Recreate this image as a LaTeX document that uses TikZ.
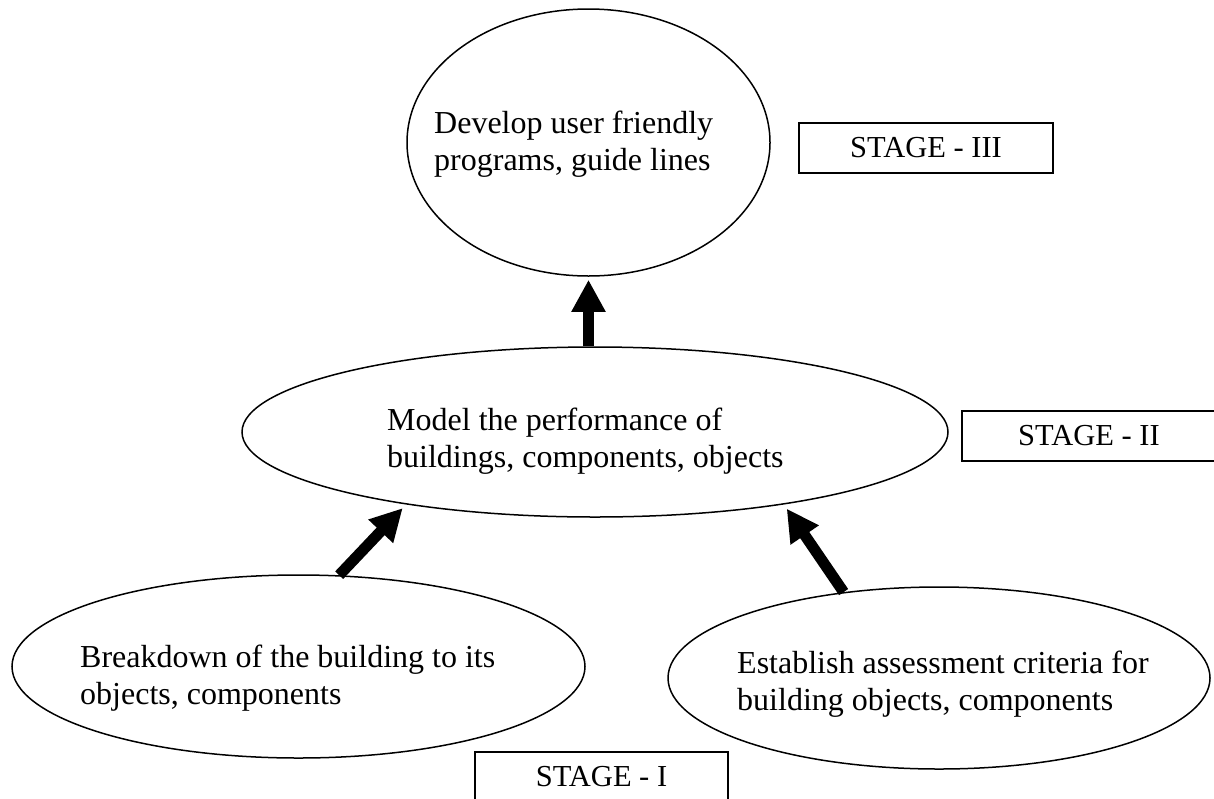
\documentclass[tikz,border=0pt]{standalone}
\usepackage{fontspec}
\setmainfont{Liberation Serif}
\usetikzlibrary{shapes.geometric,arrows.meta}
\begin{document}
\begin{tikzpicture}[x=1pt,y=-1pt,
  ell/.style={draw, ellipse, inner sep=0pt, line width=1.5pt},
  lbl/.style={anchor=north west, align=left, font=\fontsize{32}{36.5}\selectfont, inner sep=0pt},
  stagebox/.style={draw, rectangle, line width=1.5pt, minimum height=50pt, inner sep=0pt, font=\fontsize{30.5}{36}\selectfont},
  bigarrow/.style={line width=11pt, -{Triangle[width=32pt,length=32pt]}}]
\useasboundingbox (0,0) rectangle (1214,798);
\clip (0,0) rectangle (1214,798);
\fill[white] (0,0) rectangle (1214,798);

\node[ell, minimum width=363pt, minimum height=267pt] (top) at (588.5,142.5) {};
\node[ell, minimum width=706pt, minimum height=170pt] (mid) at (595,432) {};
\node[ell, minimum width=573pt, minimum height=183pt] (left) at (298.5,666.5) {};
\node[ell, minimum width=542pt, minimum height=182pt] (right) at (939,678) {};

\node[lbl] (toptext) at (434,111) {Develop user friendly\\programs, guide lines};
\node[lbl] (midtext) at (387,408) {Model the performance of\\buildings, components, objects};
\node[lbl] (lefttext) at (80,645) {Breakdown of the building to its\\objects, components};
\node[lbl] (righttext) at (737,651) {Establish assessment criteria for\\building objects, components};

\node[stagebox, minimum width=254pt] (s3) at (926,148) {STAGE - III};
\node[stagebox, minimum width=254pt] (s2) at (1089,436) {STAGE - II};
\node[stagebox, minimum width=253pt] (s1) at (601.5,777) {STAGE - I};

\draw[bigarrow, shorten >=3pt] (mid.north -| top.south) -- (top.south);
\draw[bigarrow, shorten >=5pt] (left.66) -- (mid.201);
\draw[bigarrow, shorten >=5pt] (right.138) -- (mid.339.5);
\end{tikzpicture}
\end{document}
